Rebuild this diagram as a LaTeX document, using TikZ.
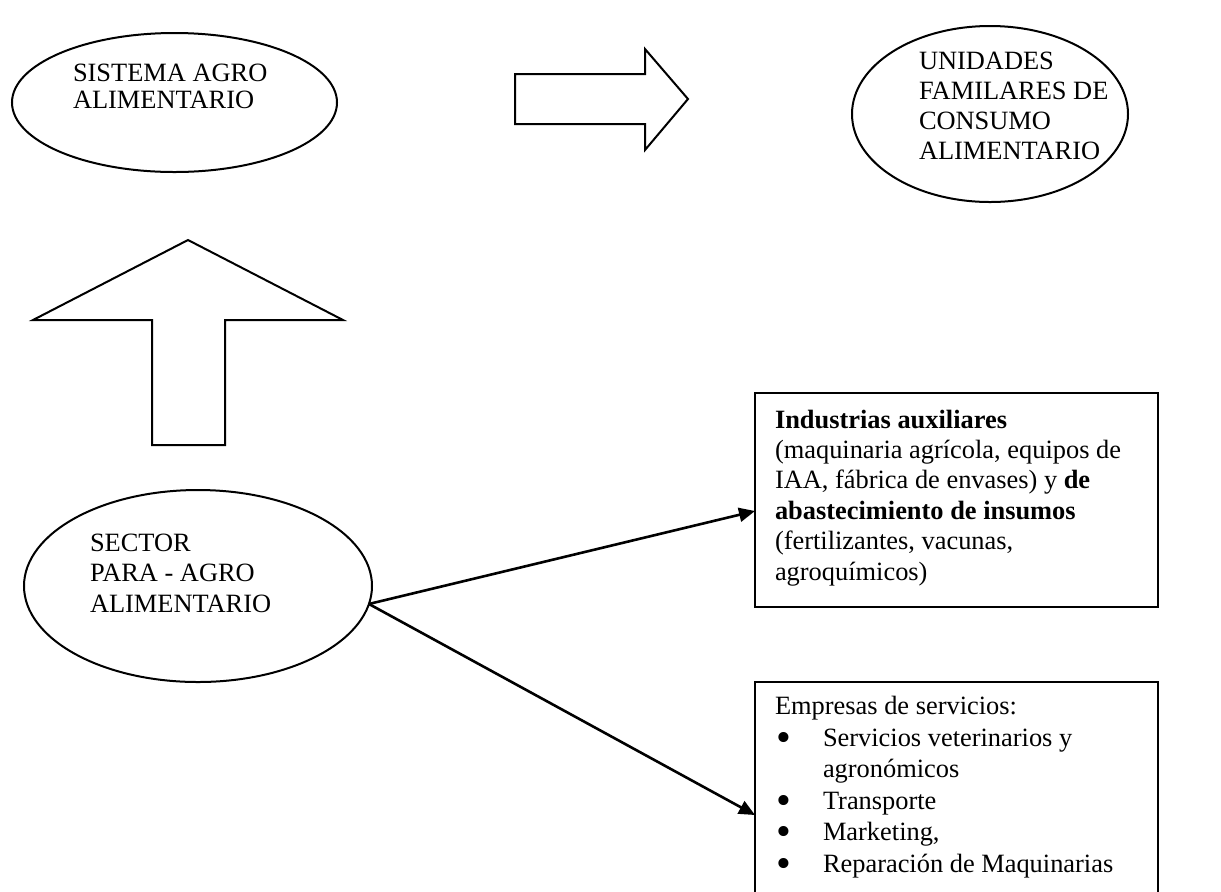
\documentclass[tikz,border=0pt]{standalone}
\usepackage{fontspec}
\setmainfont{Liberation Serif}
\usetikzlibrary{shapes.geometric,arrows.meta}
\newcommand{\bigbul}{\hspace*{0.5pt}\makebox[23.5pt][l]{\smash{\raisebox{-2.6pt}{\scalebox{1.6}{\textbullet}}}}}
\begin{document}
\begin{tikzpicture}[x=0.5pt,y=-0.5pt,
  outline/.style={draw=black,line width=1pt},
  oval/.style={ellipse,outline,inner sep=0pt,outer sep=0pt},
  panel/.style={rectangle,outline,inner sep=0pt,outer sep=0pt,anchor=north west},
  txt/.style={anchor=base west,inner sep=0pt,outer sep=0pt,align=left,font=\fontsize{13.2}{#1}\selectfont},
  link/.style={line width=1.3pt,-{Triangle[length=8pt,width=7pt]}},
  blockarrow/.style={outline,line join=miter,fill=white}]
\useasboundingbox (0,0) rectangle (1221,891);
\fill[white] (0,0) rectangle (1221,891);
\clip (0,0) rectangle (1221,891);

% ellipses (text nodes placed by the baseline of their last line)
\node[oval,minimum width=162.5pt,minimum height=69.5pt] (sis) at (174.5,102.5) {};
\node[txt=13.75pt] (sistxt) at (73,108.5) {SISTEMA AGRO\\ALIMENTARIO};

\node[oval,minimum width=138pt,minimum height=88pt] (uni) at (990,114) {};
\node[txt=15pt] (unitxt) at (919,159) {UNIDADES\\FAMILARES DE\\CONSUMO\\ALIMENTARIO};

\node[oval,minimum width=174pt,minimum height=96pt] (sec) at (198,586) {};
\node[txt=15.25pt] (sectxt) at (90,612) {SECTOR\\PARA - AGRO\\ALIMENTARIO};

% block arrows
\draw[blockarrow] (515,74) -- (645,74) -- (645,49) -- (688,99) -- (645,150) -- (645,124) -- (515,124) -- cycle;
\draw[blockarrow] (188,240) -- (343,320) -- (225,320) -- (225,445) -- (152,445) -- (152,320) -- (33,320) -- cycle;

% boxes
\node[panel,minimum width=201.5pt,minimum height=107pt] (ind) at (755,393) {};
\node[txt=15.2pt] (indtxt) at (775,580) {\textbf{Industrias auxiliares}\\(maquinaria agrícola, equipos de\\IAA, fábrica de envases) y \textbf{de}\\\textbf{abastecimiento de insumos}\\(fertilizantes, vacunas,\\agroquímicos)};

\node[panel,minimum width=201.5pt,minimum height=114pt] (emp) at (755,682) {};
\node[txt=15.75pt] (emptxt) at (775,872) {Empresas de servicios:\\
\bigbul Servicios veterinarios y\\
\hspace*{24pt}agronómicos\\
\bigbul Transporte\\
\bigbul Marketing,\\
\bigbul Reparación de Maquinarias};

% connectors
\draw[link] (sec.-6) -- ([yshift=-5.5pt]ind.west);
\draw[link] (sec.-6) -- ([yshift=-9.5pt]emp.west);
\end{tikzpicture}
\end{document}
